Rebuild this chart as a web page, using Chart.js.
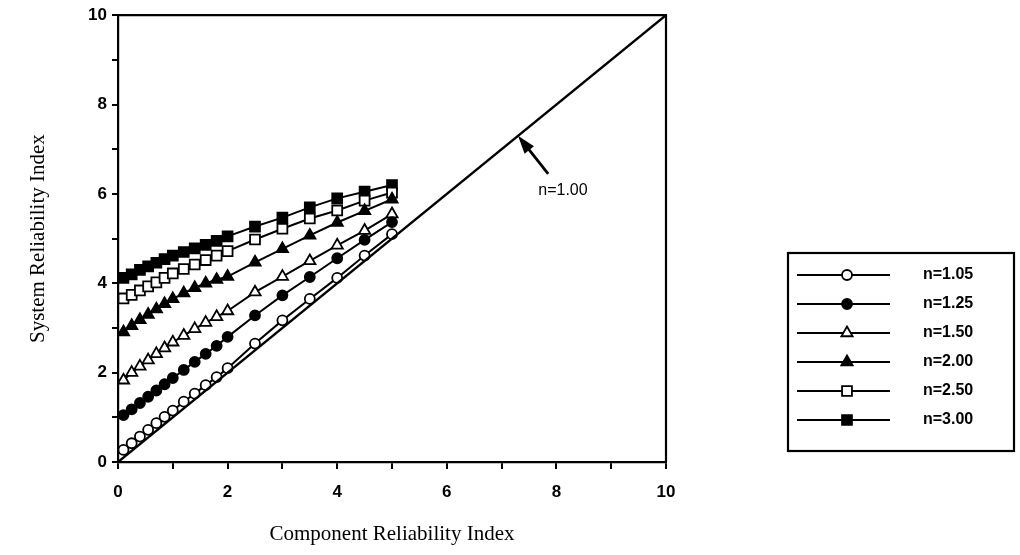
<!DOCTYPE html>
<html>
<head>
<meta charset="utf-8">
<script src="https://cdn.jsdelivr.net/npm/chart.js@4.4.1/dist/chart.umd.min.js"></script>
<style>
  html, body { margin: 0; padding: 0; background: #fff; }
  canvas { display: block; }
</style>
</head>
<body>
<canvas id="relChart" width="1020" height="555"></canvas>
<script>
// component reliability index (x) shared by all curves
const compBeta = [0.1, 0.25, 0.4, 0.55, 0.7, 0.85, 1.0, 1.2, 1.4, 1.6, 1.8, 2.0, 2.5, 3.0, 3.5, 4.0, 4.5, 5.0];

// system reliability index for each n
const sysN105 = [0.27, 0.42, 0.57, 0.72, 0.87, 1.01, 1.15, 1.35, 1.53, 1.72, 1.90, 2.10, 2.65, 3.17, 3.65, 4.12, 4.62, 5.10];
const sysN125 = [1.05, 1.18, 1.32, 1.46, 1.60, 1.74, 1.88, 2.06, 2.24, 2.42, 2.60, 2.80, 3.28, 3.73, 4.14, 4.56, 4.97, 5.37];
const sysN150 = [1.83, 2.00, 2.14, 2.28, 2.42, 2.55, 2.68, 2.83, 2.98, 3.12, 3.25, 3.38, 3.80, 4.15, 4.50, 4.85, 5.18, 5.55];
const sysN200 = [2.91, 3.05, 3.18, 3.30, 3.42, 3.54, 3.65, 3.78, 3.90, 4.00, 4.08, 4.15, 4.47, 4.77, 5.07, 5.36, 5.62, 5.88];
const sysN250 = [3.66, 3.74, 3.84, 3.93, 4.02, 4.12, 4.22, 4.32, 4.42, 4.52, 4.62, 4.72, 4.98, 5.22, 5.45, 5.63, 5.85, 6.03];
const sysN300 = [4.12, 4.20, 4.30, 4.38, 4.46, 4.54, 4.62, 4.70, 4.78, 4.86, 4.95, 5.05, 5.27, 5.47, 5.70, 5.90, 6.05, 6.20];

const seriesLabels = ['n=1.05', 'n=1.25', 'n=1.50', 'n=2.00', 'n=2.50', 'n=3.00'];

// n = 1.00 reference line
const refLineX = [0, 10];
const refLineY = [0, 10];
const refLabel = 'n=1.00';

// labelled ticks on both axes
const xTickLabels = [0, 2, 4, 6, 8, 10];
const yTickLabels = [0, 2, 4, 6, 8, 10];

const markerStyles = [
  { style: 'circle',   fill: '#fff', r: 5 },
  { style: 'circle',   fill: '#000', r: 5 },
  { style: 'triangle', fill: '#fff', r: 6.5 },
  { style: 'triangle', fill: '#000', r: 6.5 },
  { style: 'rect',     fill: '#fff', r: 7 },
  { style: 'rect',     fill: '#000', r: 7 }
];

const toPoints = (xs, ys) => xs.map((x, i) => ({ x: x, y: ys[i] }));

const seriesData = [sysN105, sysN125, sysN150, sysN200, sysN250, sysN300];

const datasets = seriesData.map((ys, i) => ({
  label: seriesLabels[i],
  data: toPoints(compBeta, ys),
  showLine: true,
  borderColor: '#000',
  borderWidth: 2,
  pointStyle: markerStyles[i].style,
  pointRadius: markerStyles[i].r,
  pointBackgroundColor: markerStyles[i].fill,
  pointBorderColor: '#000',
  pointBorderWidth: 1.8,
  tension: 0
}));

datasets.unshift({
  label: refLabel,
  data: toPoints(refLineX, refLineY),
  showLine: true,
  borderColor: '#000',
  borderWidth: 2.4,
  pointRadius: 0
});

function drawMarker(ctx, m, x, y) {
  ctx.save();
  ctx.fillStyle = m.fill;
  ctx.strokeStyle = '#000';
  ctx.lineWidth = 1.8;
  ctx.beginPath();
  if (m.style === 'circle') {
    ctx.arc(x, y, m.r, 0, Math.PI * 2);
  } else if (m.style === 'triangle') {
    const r = m.r;
    ctx.moveTo(x, y - r);
    ctx.lineTo(x + r * 0.866, y + r * 0.5);
    ctx.lineTo(x - r * 0.866, y + r * 0.5);
    ctx.closePath();
  } else {
    const h = m.r * 0.707;
    ctx.rect(x - h, y - h, h * 2, h * 2);
  }
  ctx.fill();
  ctx.stroke();
  ctx.restore();
}

// frame, arrow annotation and the boxed legend on the right
const extrasPlugin = {
  id: 'extras',
  afterDatasetsDraw(chart) {
    const { ctx, chartArea: a, scales } = chart;
    ctx.save();
    ctx.strokeStyle = '#000';
    ctx.lineWidth = 2.2;
    ctx.beginPath();
    ctx.moveTo(a.left, a.top);
    ctx.lineTo(a.right, a.top);
    ctx.lineTo(a.right, a.bottom);
    ctx.stroke();

    // arrow pointing at the n=1.00 line
    const tipX = scales.x.getPixelForValue(7.3), tipY = scales.y.getPixelForValue(7.3);
    const tailX = scales.x.getPixelForValue(7.85), tailY = scales.y.getPixelForValue(6.45);
    const ang = Math.atan2(tipY - tailY, tipX - tailX);
    ctx.lineWidth = 2.8;
    ctx.beginPath();
    ctx.moveTo(tailX, tailY);
    ctx.lineTo(tipX - 10 * Math.cos(ang), tipY - 10 * Math.sin(ang));
    ctx.stroke();
    ctx.fillStyle = '#000';
    ctx.beginPath();
    ctx.moveTo(tipX, tipY);
    ctx.lineTo(tipX - 19 * Math.cos(ang - 0.32), tipY - 19 * Math.sin(ang - 0.32));
    ctx.lineTo(tipX - 19 * Math.cos(ang + 0.32), tipY - 19 * Math.sin(ang + 0.32));
    ctx.closePath();
    ctx.fill();

    ctx.font = '16px Arial, "Liberation Sans", sans-serif';
    ctx.textAlign = 'center';
    ctx.textBaseline = 'middle';
    ctx.fillText(refLabel, scales.x.getPixelForValue(8.12), scales.y.getPixelForValue(6.07));

    // legend box
    const bx = 788, by = 253, bw = 226, bh = 198;
    ctx.lineWidth = 2.2;
    ctx.strokeRect(bx, by, bw, bh);
    ctx.font = 'bold 16px Arial, "Liberation Sans", sans-serif';
    ctx.textAlign = 'left';
    seriesLabels.forEach((lab, i) => {
      const y = 275 + i * 29;
      ctx.lineWidth = 2.2;
      ctx.beginPath();
      ctx.moveTo(797, y);
      ctx.lineTo(890, y);
      ctx.stroke();
      drawMarker(ctx, markerStyles[i], 847, y);
      ctx.fillStyle = '#000';
      ctx.fillText(lab, 923, y);
    });
    ctx.restore();
  }
};

const tickFont = { family: 'Arial, "Liberation Sans", sans-serif', size: 17, weight: 'bold' };
const titleFont = { family: '"Liberation Serif", "Times New Roman", serif', size: 21 };

new Chart(document.getElementById('relChart').getContext('2d'), {
  type: 'scatter',
  data: { datasets: datasets },
  options: {
    responsive: false,
    animation: false,
    events: [],
    layout: { padding: { top: 14, right: 354, left: 0, bottom: 0 } },
    plugins: {
      legend: { display: false },
      tooltip: { enabled: false }
    },
    scales: {
      x: {
        type: 'linear',
        min: 0,
        max: 10,
        afterFit: s => { s.height = 93; },
        border: { display: true, color: '#000', width: 2.2 },
        grid: { drawOnChartArea: false, drawTicks: true, tickLength: 7, color: '#000', lineWidth: 2 },
        ticks: {
          stepSize: 1,
          color: '#000',
          font: tickFont,
          padding: 13,
          maxRotation: 0,
          autoSkip: false,
          callback: v => (xTickLabels.includes(v) ? String(v) : '')
        },
        title: {
          display: true,
          text: 'Component Reliability Index',
          color: '#000',
          font: titleFont,
          padding: { top: 0, bottom: 8 }
        }
      },
      y: {
        type: 'linear',
        min: 0,
        max: 10,
        afterFit: s => { s.width = 118; },
        border: { display: true, color: '#000', width: 2.2 },
        grid: { drawOnChartArea: false, drawTicks: true, tickLength: 6, color: '#000', lineWidth: 2 },
        ticks: {
          stepSize: 1,
          color: '#000',
          font: tickFont,
          padding: 5,
          autoSkip: false,
          callback: v => (yTickLabels.includes(v) ? String(v) : '')
        },
        title: {
          display: true,
          text: 'System Reliability Index',
          color: '#000',
          font: titleFont,
          padding: { top: 26, bottom: 0 }
        }
      }
    }
  },
  plugins: [extrasPlugin]
});
</script>
</body>
</html>
